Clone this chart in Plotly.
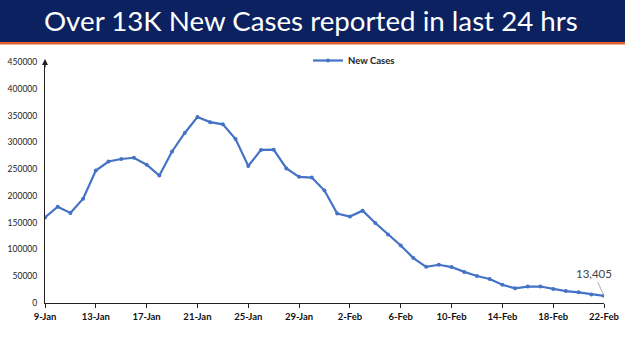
import plotly.graph_objects as go
import pandas as pd

dates = pd.date_range("2022-01-09", "2022-02-22", freq="D")
new_cases = [159632, 179723, 168063, 194720, 247417, 264202, 268833, 271202,
             258089, 238018, 282970, 317532, 347254, 337704, 333533, 306064,
             255874, 285914, 286384, 251209, 235532, 234281, 209918,
             167059, 161386, 172433, 149394, 127952, 107474, 83876, 67597,
             71365, 67084, 58077, 50407, 44877, 34113, 27409, 30615, 30757,
             25920, 22270, 19968, 16051, 13405]
title_text = "Over 13K New Cases reported in last 24 hrs"
series_name = "New Cases"
y_ticks = list(range(0, 450001, 50000))

W, H = 625, 351
L, R, T, B = 45, 21, 62, 48
ph = H - T - B
pw = W - L - R

def py(p):
    return (H - B - p) / ph

def px(p):
    return (p - L) / pw

fig = go.Figure()
fig.add_trace(go.Scatter(
    x=dates, y=new_cases, mode="lines+markers", name=series_name,
    line=dict(color="#4472C4", width=2.2),
    marker=dict(size=4, color="#4472C4"),
))

fig.update_layout(
    width=W, height=H,
    margin=dict(l=L, r=R, t=T, b=B, autoexpand=False),
    paper_bgcolor="white", plot_bgcolor="white",
    showlegend=True,
    legend=dict(x=px(308), y=py(46), xanchor="left", yanchor="top",
                font=dict(family="Lato", size=9.5, color="#222", weight="bold"),
                bgcolor="rgba(0,0,0,0)", itemwidth=30, tracegroupgap=0),
    xaxis=dict(range=[dates[0], dates[-1]], tickformat="%-d-%b",
               tick0=dates[0], dtick=4 * 86400000, automargin=False,
               showgrid=False, zeroline=False, showline=True,
               linecolor="#222", linewidth=1.2,
               ticks="outside", ticklen=4, tickcolor="#222",
               tickfont=dict(family="Lato", size=9.5, color="#111", weight="bold")),
    yaxis=dict(range=[0, 450000], tickvals=y_ticks, tickformat="d",
               automargin=False,
               showgrid=False, zeroline=False, showline=True,
               linecolor="#222", linewidth=1.2, ticks="",
               ticklabelstandoff=5,
               tickfont=dict(family="Lato", size=8.5, color="#222")),
)

# header band
fig.add_shape(type="rect", xref="paper", yref="paper",
              x0=px(0), x1=px(W), y0=py(42), y1=py(0),
              fillcolor="#0b2160", line_width=0, layer="above")
fig.add_shape(type="rect", xref="paper", yref="paper",
              x0=px(0), x1=px(W), y0=py(44.5), y1=py(42),
              fillcolor="#e0622a", line_width=0, layer="above")
fig.add_annotation(xref="paper", yref="paper", x=px(311), y=py(21),
                   text=title_text, showarrow=False,
                   font=dict(family="Lato", size=27.7, color="white"),
                   xanchor="center", yanchor="middle")

# y-axis arrow
fig.add_annotation(xref="paper", yref="paper", x=0, y=py(59), ax=0, ay=10,
                   text="", showarrow=True,
                   arrowhead=2, arrowsize=1, arrowwidth=1.2, arrowcolor="#222")

# last value label
fig.add_annotation(x=dates[-1], y=new_cases[-1], text=f"{new_cases[-1]:,}",
                   showarrow=True, arrowhead=0, arrowwidth=0.8, arrowcolor="#999",
                   ax=-10, ay=-22,
                   font=dict(family="Lato", size=11.5, color="#444"))

fig.write_html("out.html")
